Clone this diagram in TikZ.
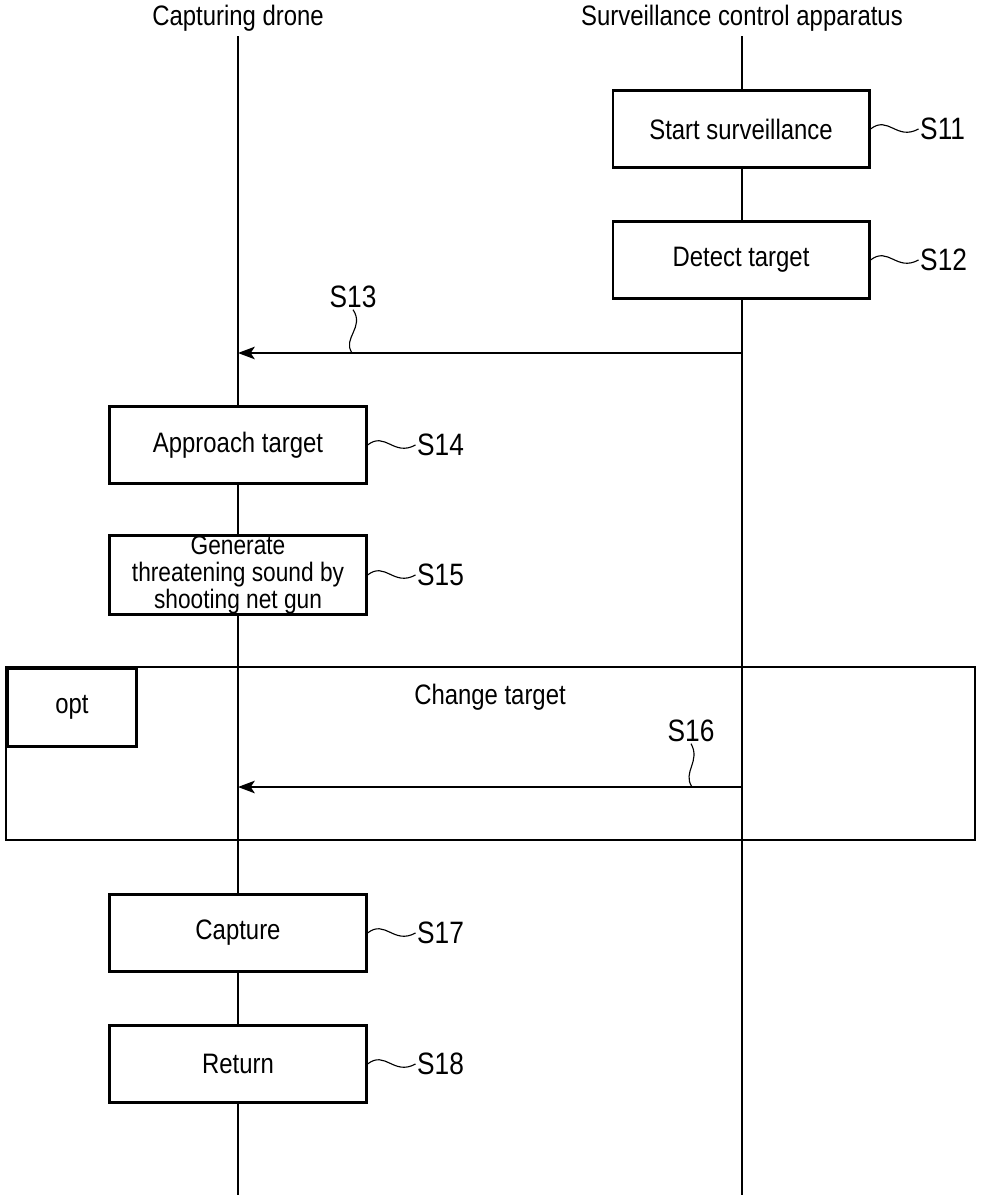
\documentclass[tikz,border=0pt]{standalone}
\usepackage{fontspec}
\setmainfont[FakeStretch=0.85]{Liberation Sans}
\usetikzlibrary{arrows.meta}
\tikzset{
    paso/.style={draw, line width=2.1pt, fill=white, minimum width=6.4cm, minimum height=1.93cm, inner sep=0pt, align=center},
    etiq/.style={anchor=west, inner sep=1pt, font=\fontsize{22}{22}\selectfont},
    vida/.style={line width=1pt},
    msj/.style={line width=0.9pt, -{Stealth[length=12pt, width=9pt, inset=3pt]}},
    marco/.style={line width=2.1pt}
}
\begin{document}
\begin{tikzpicture}[x=0.025cm, y=-0.025cm, font=\fontsize{20}{18}\selectfont]
    \useasboundingbox (0,0) rectangle (981,1200);

    % Cabeceras
    \node (dron) at (238,18) {Capturing drone};
    \node (ctrl) at (742,18) {Surveillance control apparatus};
    \coordinate (findron) at (238,1195);
    \coordinate (finctrl) at (742,1195);

    % Lineas de vida
    \draw[vida] (dron.south) -- (findron);
    \draw[vida] (ctrl.south) -- (finctrl);

    % Pasos del aparato
    \node[paso] (p11) at (741,129) {Start surveillance};
    \node[paso] (p12) at (741,260) {Detect target};

    % Pasos del dron
    \node[paso] (p14) at (238,445) {Approach target};
    \node[paso, minimum height=1.88cm, font=\fontsize{19}{19.2}\selectfont] (p15) at (238,575) {Generate\\threatening sound by\\shooting net gun};
    \node[paso] (p17) at (238,933) {Capture};
    \node[paso] (p18) at (238,1064) {Return};

    % Etiquetas laterales
    \foreach \p/\n in {p11/S11, p12/S12, p14/S14, p15/S15, p17/S17, p18/S18} {
        \node[etiq, right=48*0.025cm] (l\p) at (\p.east) {\n};
        \draw[line width=0.8pt] (\p.east) .. controls +(18,-14) and +(-22,12) .. (l\p.west);
    }

    % Mensaje S13
    \coordinate (a13) at (742,353);
    \coordinate (b13) at (238,353);
    \coordinate (m13) at (352,353);
    \draw[msj] (a13) -- (b13);
    \node[etiq, anchor=center] (l13) at (353,297) {S13};
    \draw[line width=0.8pt] (l13.south) .. controls +(12,18) and +(-10,-15) .. (m13);

    % Fragmento opt
    \draw[marco] (6,667) rectangle (975,840);
    \node[draw, marco, anchor=north west, minimum width=3.22cm, minimum height=1.95cm, inner sep=0pt] (opt) at (6,667) {opt};
    \node (cambio) at (490,697) {Change target};

    % Mensaje S16
    \coordinate (a16) at (742,787);
    \coordinate (b16) at (238,787);
    \coordinate (m16) at (692,787);
    \draw[msj] (a16) -- (b16);
    \node[etiq, anchor=center] (l16) at (691,731) {S16};
    \draw[line width=0.8pt] (l16.south) .. controls +(10,18) and +(-10,-15) .. (m16);
\end{tikzpicture}
\end{document}
